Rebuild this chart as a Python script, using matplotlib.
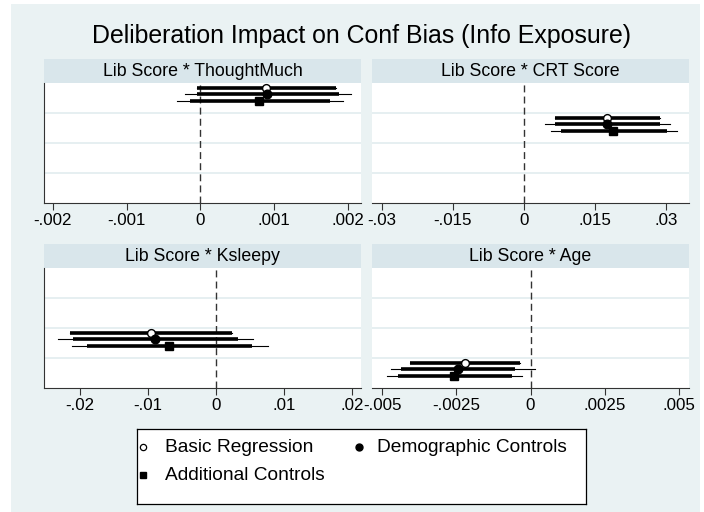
import matplotlib
matplotlib.use("Agg")
import matplotlib.pyplot as plt
from matplotlib.patches import Rectangle

plt.rcParams['font.family'] = ['Liberation Sans', 'DejaVu Sans']

# panel titles and x ticks
panel_titles = ["Lib Score * ThoughtMuch", "Lib Score * CRT Score",
                "Lib Score * Ksleepy", "Lib Score * Age"]
panel_ticks = [[-0.002, -0.001, 0, 0.001, 0.002],
               [-0.03, -0.015, 0, 0.015, 0.03],
               [-0.02, -0.01, 0, 0.01, 0.02],
               [-0.005, -0.0025, 0, 0.0025, 0.005]]
panel_ticklabels = [["-.002", "-.001", "0", ".001", ".002"],
                    ["-.03", "-.015", "0", ".015", ".03"],
                    ["-.02", "-.01", "0", ".01", ".02"],
                    ["-.005", "-.0025", "0", ".0025", ".005"]]
panel_xlim = [(-0.00212, 0.00218), (-0.0321, 0.0349),
              (-0.0253, 0.0213), (-0.00534, 0.00534)]

models = ["Basic Regression", "Demographic Controls", "Additional Controls"]

# point estimates per panel: [basic, demographic, additional]
est = [[0.00089, 0.00091, 0.00080],
       [0.01747, 0.01760, 0.01887],
       [-0.00950, -0.00898, -0.00692],
       [-0.00221, -0.00243, -0.00257]]
# thick (90%) interval
ci90_lo = [[-0.00004, -0.00004, -0.00014],
           [0.00655, 0.00655, 0.00775],
           [-0.02155, -0.02100, -0.01894],
           [-0.00406, -0.00437, -0.00446]]
ci90_hi = [[0.00184, 0.00188, 0.00176],
           [0.02870, 0.02870, 0.03020],
           [0.00240, 0.00315, 0.00526],
           [-0.00035, -0.00052, -0.00063]]
# thin (95%) interval
ci95_lo = [[-0.00004, -0.00021, -0.00032],
           [0.00655, 0.00444, 0.00578],
           [-0.02155, -0.02330, -0.02125],
           [-0.00406, -0.00470, -0.00483]]
ci95_hi = [[0.00184, 0.00204, 0.00194],
           [0.02870, 0.03080, 0.03230],
           [0.00240, 0.00545, 0.00757],
           [-0.00035, 0.00016, -0.00029]]

offsets = [-0.32, -0.12, 0.1]
mk = [dict(marker='o', mfc='white', mec='black', ms=5.6, mew=1.0),
      dict(marker='o', mfc='black', mec='black', ms=6.2),
      dict(marker='s', mfc='black', mec='black', ms=5.2)]

W, H = 704, 512
fig = plt.figure(figsize=(W / 100, H / 100), dpi=100)
fig.patch.set_facecolor('white')
fig.patches.append(Rectangle((11 / W, 0), (700 - 11) / W, 1 - 4 / H,
                             transform=fig.transFigure, facecolor='#EAF2F3',
                             edgecolor='none', zorder=-10))

strip_col = '#D9E6EB'
grid_col = '#E2ECEF'


def px_axes(x0, y0, x1, y1):
    return fig.add_axes([x0 / W, 1 - y1 / H, (x1 - x0) / W, (y1 - y0) / H])


boxes = [(44, 83, 361, 203), (372, 83, 689, 203),
         (44, 268, 361, 388), (372, 268, 689, 388)]

for i, (x0, y0, x1, y1) in enumerate(boxes):
    # strip
    sax = px_axes(x0, y0 - 24, x1, y0)
    sax.set_facecolor(strip_col)
    sax.set_xticks([]); sax.set_yticks([])
    for s in sax.spines.values():
        s.set_visible(False)
    sax.text(0.5, 0.47, panel_titles[i], ha='center', va='center', fontsize=12.8)

    ax = px_axes(x0, y0, x1, y1)
    ax.set_facecolor('white')
    ax.set_xlim(*panel_xlim[i])
    ax.set_ylim(4.5, 0.5)
    for yg in [1.5, 2.5, 3.5]:
        ax.axhline(yg, color=grid_col, lw=1.2, zorder=0)
    ax.axvline(0, color='#333333', lw=1.0, ls=(0, (5, 3)), zorder=1)
    cat = i + 1
    for m in range(3):
        y = cat + offsets[m]
        ax.plot([ci95_lo[i][m], ci95_hi[i][m]], [y, y], color='black', lw=0.8, zorder=2)
        ax.plot([ci90_lo[i][m], ci90_hi[i][m]], [y, y], color='black', lw=2.6,
                solid_capstyle='butt', zorder=3)
        ax.plot([est[i][m]], [y], ls='none', zorder=4, **mk[m])
    ax.set_yticks([])
    ax.set_xticks(panel_ticks[i])
    ax.set_xticklabels(panel_ticklabels[i], fontsize=12.2)
    ax.tick_params(axis='x', length=5, width=0.8, color='#333333', pad=2.5)
    ax.spines['top'].set_visible(False)
    ax.spines['right'].set_visible(False)
    ax.spines['bottom'].set_color('#333333')
    ax.spines['left'].set_color('#333333')
    if i % 2 == 1:
        ax.spines['left'].set_visible(False)

fig.text(362 / W, 1 - 43 / H, "Deliberation Impact on Conf Bias (Info Exposure)",
         ha='center', va='baseline', fontsize=17.9)

# legend
lx0, ly0, lx1, ly1 = 137, 429, 586, 504
lax = px_axes(lx0, ly0, lx1, ly1)
lax.set_xlim(0, lx1 - lx0)
lax.set_ylim(ly1 - ly0, 0)
lax.set_xticks([]); lax.set_yticks([])
lax.set_facecolor('white')
for s in lax.spines.values():
    s.set_color('black'); s.set_linewidth(0.9)
leg_pos = [(6, 18), (222, 18), (6, 46)]
leg_text_x = [28, 240, 28]
leg_mk = [dict(marker='o', mfc='white', mec='black', ms=4.5, mew=0.9),
          dict(marker='o', mfc='black', mec='black', ms=5.0),
          dict(marker='s', mfc='black', mec='black', ms=4.5)]
for m in range(3):
    x, y = leg_pos[m]
    lax.plot([x], [y], ls='none', **leg_mk[m])
    lax.text(leg_text_x[m], y, models[m], va='center', ha='left', fontsize=13.8)

fig.savefig("out.png", dpi=100)
